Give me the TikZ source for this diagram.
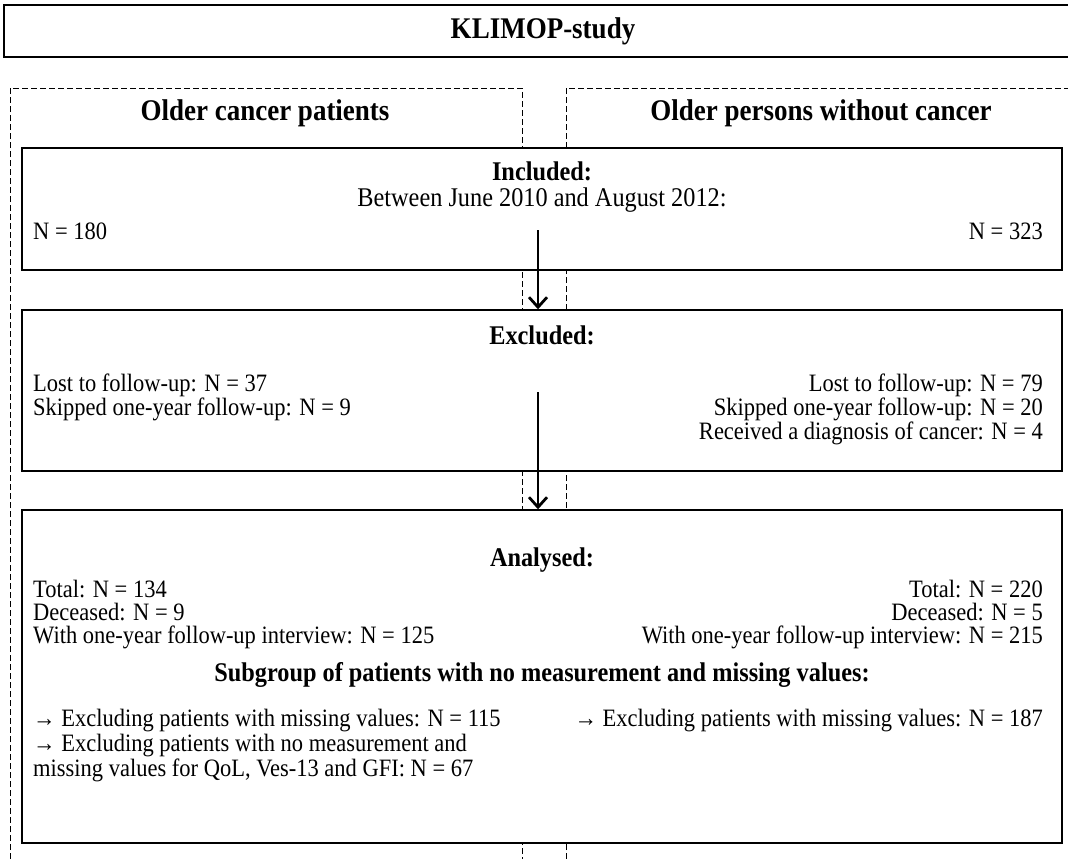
\documentclass[tikz,border=0pt]{standalone}
\usepackage{fontspec}
\setmainfont{Liberation Serif}[FakeStretch=0.9]
\usetikzlibrary{arrows.meta}
\begin{document}
\begin{tikzpicture}[x=1pt,y=-1pt,
  box/.style={draw, fill=white, line width=1.4pt, inner sep=0pt},
  panel/.style={draw, dash pattern=on 6pt off 3pt, line width=1pt},
  txt/.style={font=\fontsize{25}{26}\selectfont, inner sep=0pt},
  lt/.style={txt, anchor=base west},
  rt/.style={txt, anchor=base east},
  hd/.style={font=\fontsize{27}{28}\selectfont\bfseries, inner sep=0pt},
  big/.style={font=\fontsize{30}{31}\selectfont\bfseries, inner sep=0pt},
  flow/.style={line width=1.2pt, -{Straight Barb[length=10pt,width=18pt,line width=2.8pt]}}
]
\useasboundingbox (0,0) rectangle (1068,859);

% dashed group frames (drawn first, boxes cover them)
\draw[panel] (10,859) -- (10,88) -- (522,88) -- (522,859);
\draw[panel] (566,859) -- (566,88) -- (1080,88);

% main boxes
\node[box, line width=1.8pt, minimum width=1076pt, minimum height=52pt] (study) at (542,31) {};
\node[box, minimum width=1040pt, minimum height=122pt] (incl) at (542,209) {};
\node[box, minimum width=1040pt, minimum height=161pt] (excl) at (542,390.5) {};
\node[box, minimum width=1040pt, minimum height=333pt] (anal) at (542,676.5) {};

% titles
\node[big] (title) at (543,31) {KLIMOP-study};
\node[big] (grpL) at (265,113) {Older cancer patients};
\node[big] (grpR) at (821,113) {Older persons without cancer};

% included
\node[hd] (incH) at (542,171) {Included:};
\node[font=\fontsize{27}{28}\selectfont, inner sep=0pt] (incD) at (542,200) {Between June 2010 and August 2012:};
\node[lt] (incL) at (33,239) {N = 180};
\node[rt] (incR) at (1043,239) {N = 323};

% excluded
\node[hd] (excH) at (542,335) {Excluded:};
\node[lt] (excL1) at (33,391) {Lost to follow-up: N = 37};
\node[lt] (excL2) at (33,415) {Skipped one-year follow-up: N = 9};
\node[rt] (excR1) at (1043,391) {Lost to follow-up: N = 79};
\node[rt] (excR2) at (1043,415) {Skipped one-year follow-up: N = 20};
\node[rt] (excR3) at (1043,439) {Received a diagnosis of cancer: N = 4};

% analysed
\node[hd] (anaH) at (542,560) {Analysed:};
\node[lt] (anaL1) at (33,597) {Total: N = 134};
\node[lt] (anaL2) at (33,620) {Deceased: N = 9};
\node[lt] (anaL3) at (33,643) {With one-year follow-up interview: N = 125};
\node[rt] (anaR1) at (1043,597) {Total: N = 220};
\node[rt] (anaR2) at (1043,620) {Deceased: N = 5};
\node[rt] (anaR3) at (1043,643) {With one-year follow-up interview: N = 215};
\node[hd] (subH) at (542,675) {Subgroup of patients with no measurement and missing values:};
\node[lt] (subL1) at (33,726) {→ Excluding patients with missing values: N = 115};
\node[lt] (subL2) at (33,751) {→ Excluding patients with no measurement and};
\node[lt] (subL3) at (33,776) {missing values for QoL, Ves-13 and GFI: N = 67};
\node[rt] (subR1) at (1043,726) {→ Excluding patients with missing values: N = 187};

% flow arrows
\coordinate (s1) at (538,230);
\coordinate (s2) at (538,392);
\draw[flow] (s1) -- (s1 |- excl.north);
\draw[flow] (s2) -- (s2 |- anal.north);
\end{tikzpicture}
\end{document}
